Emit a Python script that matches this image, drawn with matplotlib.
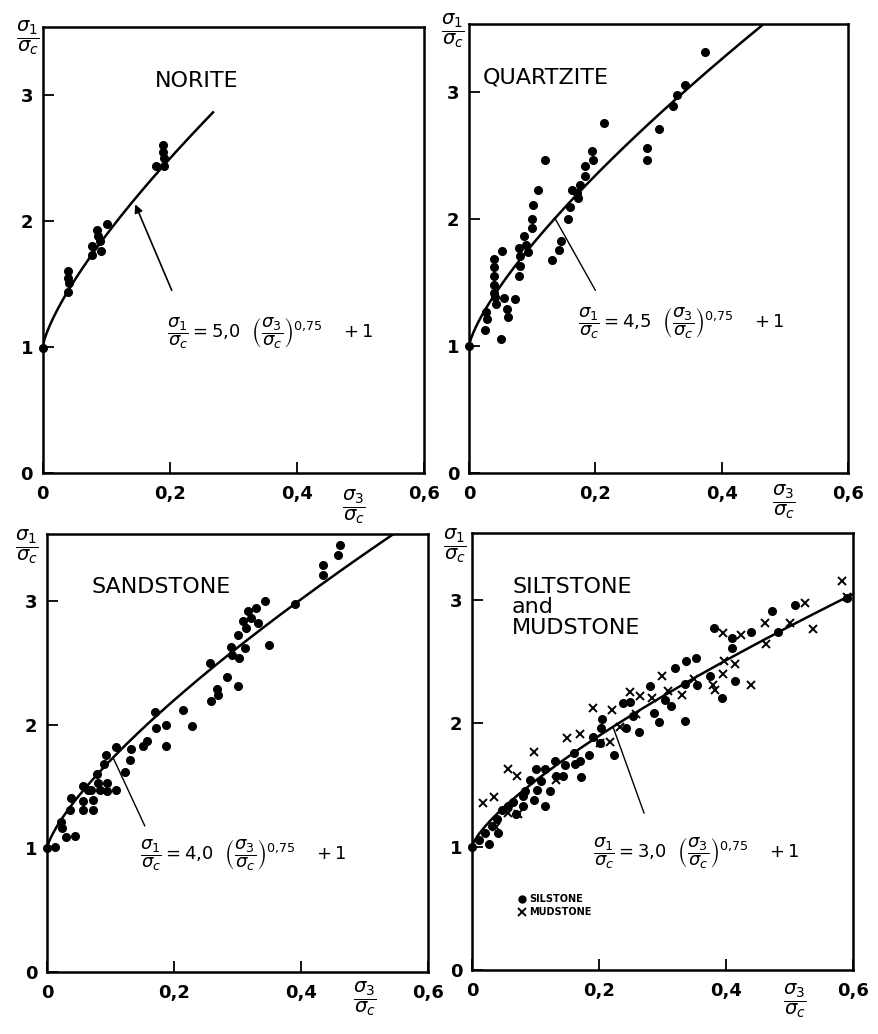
import numpy as np
import matplotlib.pyplot as plt
from matplotlib.lines import Line2D

plt.rcParams['font.family'] = 'DejaVu Sans'
plt.rcParams['mathtext.fontset'] = 'dejavusans'

# Criterio empirico: s1/sc = A * (s3/sc)^0.75 + 1
EXPONENT = 0.75
Y_TOP = 3.54

# Norite
norite_x = [0.0, 0.040, 0.040, 0.041, 0.040, 0.077, 0.078, 0.085, 0.087, 0.090,
            0.091, 0.101, 0.178, 0.190, 0.190, 0.191, 0.191]
norite_y = [0.99, 1.60, 1.55, 1.51, 1.44, 1.80, 1.73, 1.93, 1.88, 1.84,
            1.76, 1.98, 2.44, 2.60, 2.55, 2.50, 2.44]
norite_a = 5.0

# Quartzite
quartzite_x = [0.0, 0.025, 0.028, 0.027, 0.040, 0.040, 0.040, 0.039, 0.039, 0.041,
               0.043, 0.052, 0.051, 0.055, 0.060, 0.062, 0.072, 0.079, 0.081, 0.080,
               0.079, 0.087, 0.090, 0.094, 0.100, 0.100, 0.101, 0.109, 0.121, 0.132,
               0.142, 0.145, 0.157, 0.160, 0.163, 0.171, 0.172, 0.176, 0.183, 0.183,
               0.197, 0.195, 0.214, 0.282, 0.282, 0.301, 0.323, 0.330, 0.342, 0.374]
quartzite_y = [1.00, 1.13, 1.21, 1.27, 1.69, 1.62, 1.55, 1.48, 1.42, 1.39,
               1.33, 1.75, 1.06, 1.38, 1.29, 1.23, 1.37, 1.77, 1.71, 1.63,
               1.55, 1.87, 1.80, 1.74, 1.93, 2.00, 2.11, 2.23, 2.47, 1.68,
               1.76, 1.83, 2.00, 2.10, 2.23, 2.21, 2.17, 2.27, 2.34, 2.42,
               2.47, 2.54, 2.76, 2.56, 2.47, 2.71, 2.89, 2.98, 3.06, 3.32]
quartzite_a = 4.5

# Sandstone
sandstone_x = [0.0, 0.013, 0.022, 0.024, 0.030, 0.044, 0.037, 0.036, 0.057, 0.057,
               0.057, 0.065, 0.070, 0.073, 0.073, 0.078, 0.081, 0.083, 0.089, 0.093,
               0.094, 0.094, 0.109, 0.109, 0.123, 0.130, 0.132, 0.151, 0.158, 0.170,
               0.172, 0.187, 0.188, 0.214, 0.229, 0.256, 0.258, 0.268, 0.270, 0.283,
               0.301, 0.289, 0.291, 0.300, 0.303, 0.312, 0.309, 0.313, 0.317, 0.322,
               0.329, 0.333, 0.343, 0.350, 0.391, 0.435, 0.435, 0.459, 0.461]
sandstone_y = [1.00, 1.01, 1.21, 1.16, 1.09, 1.10, 1.41, 1.31, 1.50, 1.38,
               1.31, 1.47, 1.47, 1.39, 1.31, 1.60, 1.53, 1.47, 1.68, 1.75,
               1.53, 1.46, 1.82, 1.47, 1.62, 1.71, 1.80, 1.83, 1.87, 2.10,
               1.97, 2.00, 1.83, 2.12, 1.99, 2.50, 2.19, 2.29, 2.24, 2.38,
               2.31, 2.63, 2.56, 2.72, 2.54, 2.62, 2.84, 2.78, 2.92, 2.86,
               2.94, 2.82, 3.00, 2.64, 2.97, 3.29, 3.21, 3.37, 3.45]
sandstone_a = 4.0

# Siltstone (puntos) y mudstone (cruces)
siltstone_x = [0.0, 0.011, 0.020, 0.026, 0.031, 0.040, 0.041, 0.048, 0.057, 0.065,
               0.070, 0.081, 0.081, 0.083, 0.091, 0.097, 0.102, 0.101, 0.115, 0.115,
               0.109, 0.123, 0.130, 0.133, 0.144, 0.146, 0.160, 0.162, 0.170, 0.172,
               0.184, 0.191, 0.203, 0.202, 0.204, 0.223, 0.238, 0.243, 0.249, 0.253,
               0.263, 0.281, 0.287, 0.295, 0.304, 0.314, 0.320, 0.337, 0.353, 0.335,
               0.354, 0.335, 0.375, 0.381, 0.393, 0.409, 0.410, 0.414, 0.440, 0.472,
               0.482, 0.509, 0.590]
siltstone_y = [1.00, 1.05, 1.11, 1.02, 1.17, 1.22, 1.11, 1.30, 1.33, 1.36,
               1.26, 1.33, 1.41, 1.45, 1.54, 1.38, 1.46, 1.63, 1.63, 1.33,
               1.53, 1.45, 1.69, 1.57, 1.57, 1.66, 1.76, 1.67, 1.69, 1.56,
               1.74, 1.89, 1.96, 1.84, 2.03, 1.74, 2.16, 1.96, 2.17, 2.06,
               1.93, 2.30, 2.08, 2.01, 2.19, 2.14, 2.45, 2.50, 2.53, 2.32,
               2.31, 2.02, 2.38, 2.77, 2.20, 2.69, 2.61, 2.34, 2.74, 2.91,
               2.74, 2.96, 3.01]
mudstone_x = [0.017, 0.035, 0.038, 0.057, 0.057, 0.071, 0.073, 0.097, 0.133, 0.149,
              0.170, 0.191, 0.202, 0.217, 0.220, 0.233, 0.249, 0.259, 0.265, 0.283,
              0.299, 0.309, 0.330, 0.349, 0.380, 0.383, 0.396, 0.396, 0.397, 0.414,
              0.423, 0.440, 0.461, 0.463, 0.501, 0.524, 0.537, 0.582, 0.590]
mudstone_y = [1.35, 1.40, 1.16, 1.63, 1.27, 1.57, 1.26, 1.77, 1.54, 1.88,
              1.91, 2.12, 1.84, 1.85, 2.11, 1.97, 2.25, 2.07, 2.22, 2.20,
              2.38, 2.26, 2.23, 2.36, 2.31, 2.27, 2.73, 2.40, 2.50, 2.48,
              2.71, 2.31, 2.81, 2.64, 2.81, 2.97, 2.76, 3.15, 3.02]
siltstone_a = 3.0

x_ticks = [0, 0.2, 0.4, 0.6]
x_tick_labels = ['0', '0,2', '0,4', '0,6']
y_ticks = [0, 1, 2, 3]
y_tick_labels = ['0', '1', '2', '3']

fig = plt.figure(figsize=(8.79, 10.34), dpi=100)

# posiciones de los cuatro paneles (fraccion de figura)
ax1 = fig.add_axes([0.0486, 0.5426, 0.4338, 0.4313])
ax2 = fig.add_axes([0.5336, 0.5426, 0.4312, 0.4342])
ax3 = fig.add_axes([0.0535, 0.0600, 0.4334, 0.4236])
ax4 = fig.add_axes([0.5370, 0.0619, 0.4334, 0.4226])

Y_LABEL = r'$\dfrac{\sigma_1}{\sigma_c}$'
X_LABEL = r'$\dfrac{\sigma_3}{\sigma_c}$'


def equation(a):
    coef = ('%.1f' % a).replace('.', '{,}')
    return (r'$\dfrac{\sigma_1}{\sigma_c} = %s\ \ \left(\dfrac{\sigma_3}{\sigma_c}\right)^{0{,}75}\ \ \ +1$'
            % coef)


def setup(ax, ylab_pos, xlab_pos):
    ax.set_xlim(0, 0.6)
    ax.set_ylim(0, Y_TOP)
    for s in ax.spines.values():
        s.set_linewidth(1.8)
    ax.set_xticks(x_ticks)
    ax.set_xticklabels(x_tick_labels, fontsize=13, fontweight='bold')
    ax.set_yticks(y_ticks)
    ax.set_yticklabels(y_tick_labels, fontsize=13, fontweight='bold')
    ax.tick_params(direction='in', length=8, width=1.3, pad=7)
    ax.tick_params(axis='x', pad=9)
    ax.text(ylab_pos[0], ylab_pos[1], Y_LABEL, transform=ax.transAxes,
            fontsize=14, ha='center', va='center')
    ax.text(xlab_pos[0], xlab_pos[1], X_LABEL, transform=ax.transAxes,
            fontsize=14, ha='center', va='center', clip_on=False)


def curve(ax, a, x_end):
    xs = np.linspace(0, x_end, 500)
    ax.plot(xs, a * xs ** EXPONENT + 1, color='black', lw=1.8)


dot = dict(marker='o', ls='none', color='black', ms=5.5, clip_on=False)
cross = dict(marker='x', ls='none', color='black', ms=6, mew=1.4, clip_on=False)

# Norite
setup(ax1, (-0.04, 0.975), (0.815, -0.075))
curve(ax1, norite_a, 0.268)
ax1.plot(norite_x, norite_y, **dot)
ax1.text(0.295, 0.88, 'NORITE', transform=ax1.transAxes, fontsize=16, va='center')
ax1.annotate('', xy=(0.143, norite_a * 0.143 ** EXPONENT + 1), xytext=(0.203, 1.45),
             arrowprops=dict(arrowstyle='-|>', lw=1.2, color='black', mutation_scale=12,
                             shrinkA=0, shrinkB=3))
ax1.text(0.196, 1.11, equation(norite_a), fontsize=13, va='center')

# Quartzite
setup(ax2, (-0.042, 0.985), (0.83, -0.065))
curve(ax2, quartzite_a, 0.6)
ax2.plot(quartzite_x, quartzite_y, **dot)
ax2.text(0.037, 0.88, 'QUARTZITE', transform=ax2.transAxes, fontsize=16, va='center')
ax2.annotate('', xy=(0.136, quartzite_a * 0.136 ** EXPONENT + 1), xytext=(0.2, 1.44),
             arrowprops=dict(arrowstyle='-', lw=1.0, color='black', shrinkA=0, shrinkB=0))
ax2.text(0.172, 1.18, equation(quartzite_a), fontsize=13, va='center')

# Sandstone
setup(ax3, (-0.052, 0.97), (0.835, -0.06))
curve(ax3, sandstone_a, 0.6)
ax3.plot(sandstone_x, sandstone_y, **dot)
ax3.text(0.118, 0.879, 'SANDSTONE', transform=ax3.transAxes, fontsize=16, va='center')
ax3.annotate('', xy=(0.104, sandstone_a * 0.104 ** EXPONENT + 1), xytext=(0.154, 1.18),
             arrowprops=dict(arrowstyle='-', lw=1.0, color='black', shrinkA=0, shrinkB=0))
ax3.text(0.146, 0.94, equation(sandstone_a), fontsize=13, va='center')

# Siltstone and mudstone
setup(ax4, (-0.045, 0.97), (0.848, -0.07))
curve(ax4, siltstone_a, 0.6)
ax4.plot(siltstone_x, siltstone_y, **dot)
ax4.plot(mudstone_x, mudstone_y, **cross)
ax4.text(0.105, 0.83, 'SILTSTONE\nand\nMUDSTONE', transform=ax4.transAxes, fontsize=16,
         va='center', linespacing=1.05)
ax4.annotate('', xy=(0.222, siltstone_a * 0.222 ** EXPONENT + 1), xytext=(0.271, 1.27),
             arrowprops=dict(arrowstyle='-', lw=1.0, color='black', shrinkA=0, shrinkB=0))
ax4.text(0.19, 0.95, equation(siltstone_a), fontsize=13, va='center')
handles = [Line2D([], [], marker='o', ls='none', color='black', ms=5),
           Line2D([], [], marker='x', ls='none', color='black', ms=5.5, mew=1.4)]
ax4.legend(handles, ['SILSTONE', 'MUDSTONE'], loc='upper left', bbox_to_anchor=(0.11, 0.185),
           frameon=False, handlelength=0.6, handletextpad=0.5, labelspacing=0.3,
           borderpad=0, prop=dict(size=7, weight='bold'))

fig.savefig('out.png', dpi=100)
